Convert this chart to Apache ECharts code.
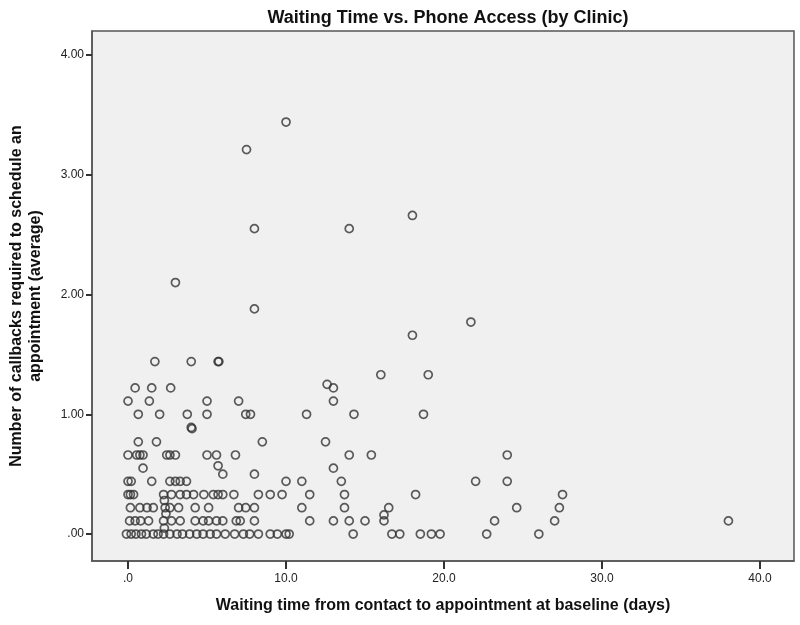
<!DOCTYPE html>
<html>
<head>
<meta charset="utf-8">
<script src="https://cdn.jsdelivr.net/npm/echarts@6/dist/echarts.min.js"></script>
<style>html,body{margin:0;padding:0;background:#fff}#c{width:800px;height:625px}</style>
</head>
<body>
<div id="c"></div>
<script>
const chartTitle = 'Waiting Time vs. Phone Access (by Clinic)';
const xTitle = 'Waiting time from contact to appointment at baseline (days)';
const yTitleLines = ['Number of callbacks required to schedule an', 'appointment (average)'];
const xTicks = [0, 10, 20, 30, 40];
const yTicks = [0, 1, 2, 3, 4];
const waitDays = [
  10.0, 7.5, 18.0, 8.0, 14.0, 3.0, 8.0, 21.7, 18.0,
  1.7, 4.0, 5.7, 5.75, 16.0, 19.0, 12.6, 13.0,
  0.45, 1.5, 2.7,
  0.0, 1.35, 5.0, 7.0, 13.0,
  0.65, 2.0, 3.75, 5.0, 7.45, 7.75, 11.3, 14.3, 18.7,
  4.0, 4.05,
  0.65, 1.8, 8.5, 12.5,
  0.0, 0.55, 0.75, 0.95, 2.45, 2.65, 3.0, 5.0, 5.6, 6.8, 14.0, 15.4, 24.0,
  0.95, 5.7, 13.0,
  6.0, 8.0,
  0.0, 0.2, 1.5, 2.65, 3.0, 3.3, 3.7, 10.0, 11.0, 13.5, 22.0, 24.0,
  0.0, 0.15, 0.35, 2.25, 2.75, 3.3, 3.7, 4.15, 4.8, 5.4, 5.7, 6.0, 6.7, 8.25, 9.0, 9.75, 11.5, 13.7, 18.2, 27.5,
  2.3,
  0.15, 0.75, 1.2, 1.6, 2.35, 2.65, 3.2, 4.25, 5.1, 7.0, 7.45, 8.0, 11.0, 13.7, 16.5, 24.6, 27.3,
  2.4, 16.2,
  0.1, 0.45, 0.8, 1.3, 2.25, 2.75, 3.3, 4.25, 4.75, 5.1, 5.6, 6.0, 6.85, 7.1, 8.0, 11.5, 13.0, 14.0, 15.0, 16.2, 23.2, 27.0, 38.0,
  2.3,
  -0.1, 0.2, 0.5, 0.85, 1.15, 1.6, 1.9, 2.25, 2.65, 3.1, 3.45, 3.9, 4.35, 4.75, 5.2, 5.6, 6.15, 6.75, 7.3, 7.7, 8.25, 9.0, 9.45, 10.0, 10.2, 14.25, 16.7, 17.2, 18.5, 19.2, 19.75, 22.7, 26.0
];
const callbacks = [
  3.44, 3.21, 2.66, 2.55, 2.55, 2.10, 1.88, 1.77, 1.66,
  1.44, 1.44, 1.44, 1.44, 1.33, 1.33, 1.25, 1.22,
  1.22, 1.22, 1.22,
  1.11, 1.11, 1.11, 1.11, 1.11,
  1.0, 1.0, 1.0, 1.0, 1.0, 1.0, 1.0, 1.0, 1.0,
  0.89, 0.88,
  0.77, 0.77, 0.77, 0.77,
  0.66, 0.66, 0.66, 0.66, 0.66, 0.66, 0.66, 0.66, 0.66, 0.66, 0.66, 0.66, 0.66,
  0.55, 0.57, 0.55,
  0.50, 0.50,
  0.44, 0.44, 0.44, 0.44, 0.44, 0.44, 0.44, 0.44, 0.44, 0.44, 0.44, 0.44,
  0.33, 0.33, 0.33, 0.33, 0.33, 0.33, 0.33, 0.33, 0.33, 0.33, 0.33, 0.33, 0.33, 0.33, 0.33, 0.33, 0.33, 0.33, 0.33, 0.33,
  0.28,
  0.22, 0.22, 0.22, 0.22, 0.22, 0.22, 0.22, 0.22, 0.22, 0.22, 0.22, 0.22, 0.22, 0.22, 0.22, 0.22, 0.22,
  0.17, 0.16,
  0.11, 0.11, 0.11, 0.11, 0.11, 0.11, 0.11, 0.11, 0.11, 0.11, 0.11, 0.11, 0.11, 0.11, 0.11, 0.11, 0.11, 0.11, 0.11, 0.11, 0.11, 0.11, 0.11,
  0.05,
  0, 0, 0, 0, 0, 0, 0, 0, 0, 0, 0, 0, 0, 0, 0, 0, 0, 0, 0, 0, 0, 0, 0, 0, 0, 0, 0, 0, 0, 0, 0, 0, 0
];

const points = waitDays.map((x, i) => [x, callbacks[i]]);
const FONT = '"Liberation Sans", Arial, sans-serif';
const chart = echarts.init(document.getElementById('c'), null, {renderer: 'canvas'});
chart.setOption({
  animation: false,
  backgroundColor: '#ffffff',
  title: {
    text: chartTitle,
    left: 443, top: 4, textAlign: 'center',
    textStyle: {fontFamily: FONT, fontSize: 18, fontWeight: 'bold', color: '#111'}
  },
  grid: {
    left: 92, top: 31, right: 6, bottom: 64,
    show: true, backgroundColor: '#f0f0f0', borderColor: '#555', borderWidth: 1.5
  },
  xAxis: {
    type: 'value', min: -2.28, max: 42.15,
    name: xTitle, nameLocation: 'middle', nameGap: 37,
    nameTextStyle: {fontFamily: FONT, fontSize: 16, fontWeight: 'bold', color: '#111'},
    axisLine: {show: true, onZero: false, lineStyle: {color: '#555', width: 1.5}},
    axisTick: {show: true, customValues: xTicks, length: 8, lineStyle: {color: '#333', width: 2}},
    axisLabel: {customValues: xTicks, margin: 12, fontFamily: FONT, fontSize: 12, color: '#222',
      formatter: v => v === 0 ? '.0' : Number(v).toFixed(1)},
    splitLine: {show: false}
  },
  yAxis: {
    type: 'value', min: -0.225, max: 4.2,
    axisLine: {show: true, onZero: false, lineStyle: {color: '#555', width: 1.5}},
    axisTick: {show: true, customValues: yTicks, length: 6, lineStyle: {color: '#333', width: 2}},
    axisLabel: {customValues: yTicks, margin: 8, fontFamily: FONT, fontSize: 12, color: '#222',
      formatter: v => v === 0 ? '.00' : Number(v).toFixed(2)},
    splitLine: {show: false}
  },
  graphic: [{
    type: 'text', x: 26, y: 296, rotation: Math.PI / 2,
    style: {text: yTitleLines.join('\n'), align: 'center', verticalAlign: 'middle',
      fontFamily: FONT, fontSize: 16, fontWeight: 'bold', fill: '#111', lineHeight: 19}
  }],
  series: [{
    type: 'scatter', data: points, symbol: 'circle', symbolSize: 8,
    itemStyle: {color: 'rgba(0,0,0,0)', borderColor: '#333', borderWidth: 1.7}
  }]
});
</script>
</body>
</html>
